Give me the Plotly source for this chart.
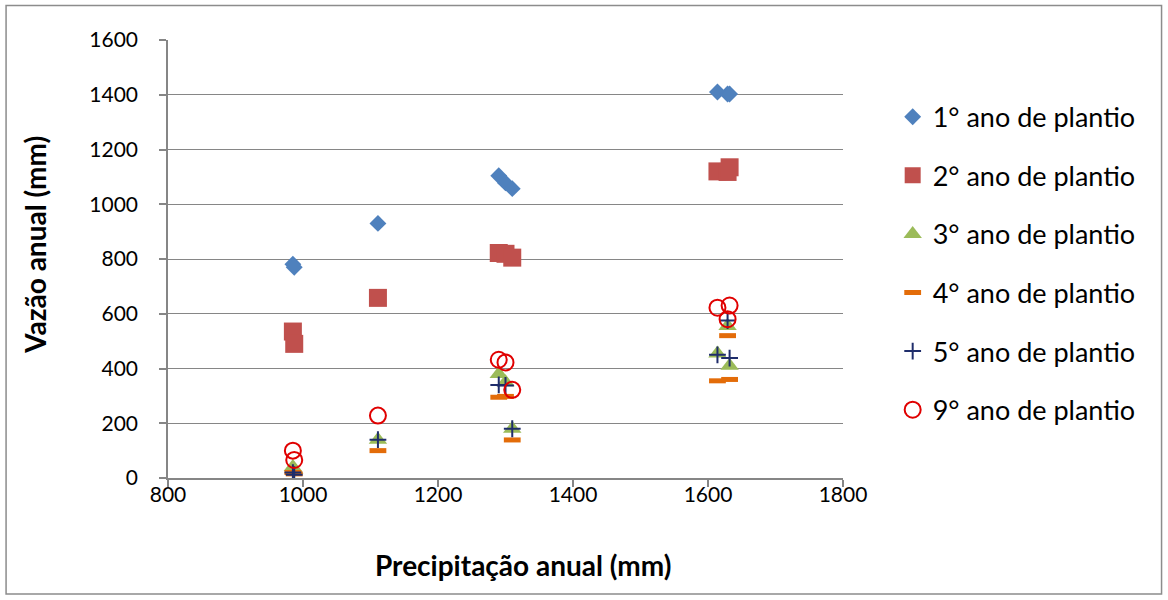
import plotly.graph_objects as go

# Data
precip = [985, 987, 1111, 1290, 1300, 1310, 1614, 1629, 1632]
ano1 = [781, 770, 930, 1104, 1078, 1057, 1410, 1403, 1403]
ano2 = [535, 490, 658, 822, 819, 805, 1120, 1118, 1135]
ano3 = [40, 30, 140, 380, 350, 180, 455, 555, 410]
ano4 = [20, 15, 100, 295, 298, 139, 355, 520, 360]
ano5 = [20, 12, 140, 340, 338, 180, 450, 575, 438]
ano9 = [100, 66, 228, 432, 422, 322, 622, 580, 630]

names = ["1° ano de plantio", "2° ano de plantio", "3° ano de plantio",
         "4° ano de plantio", "5° ano de plantio", "9° ano de plantio"]
series = [ano1, ano2, ano3, ano4, ano5, ano9]

styles = [
    dict(symbol="diamond", size=13, color="#4F81BD", line=dict(width=0)),
    dict(symbol="square", size=18, color="#C0504D", line=dict(width=0)),
    dict(symbol="triangle-up", size=16, color="#9BBB59", line=dict(width=0)),
    dict(symbol="line-ew", size=12, color="#E36C09", line=dict(width=5, color="#E36C09")),
    dict(symbol="cross-thin", size=12, color="#1F2D6B", line=dict(width=2, color="#1F2D6B")),
    dict(symbol="circle-open", size=16, color="#E00000", line=dict(width=2, color="#E00000")),
]

fig = go.Figure()
for i, (nm, ys, st) in enumerate(zip(names, series, styles)):
    fig.add_trace(go.Scatter(x=precip, y=ys, mode="markers", name=nm,
                             legendgroup=str(i), marker=st))

FONT = "Lato"
axis_col = "#868686"

# plot area in pixels
L, R, T, B = 168, 843.3, 40.4, 478.0
W, H = 1168, 600
pw, ph = R - L, B - T

def px2paper_x(px):
    return (px - L) / pw

def px2paper_y(py):
    return (B - py) / ph

fig.update_layout(
    width=W, height=H,
    margin=dict(l=L, r=W - R, t=T, b=H - B, pad=0),
    paper_bgcolor="white", plot_bgcolor="white",
    font=dict(family=FONT, size=21, color="black"),
    showlegend=True,
    legend=dict(x=px2paper_x(893), y=px2paper_y(93), xanchor="left", yanchor="top",
                font=dict(family=FONT, size=27, color="black"),
                tracegroupgap=20.5, bgcolor="rgba(0,0,0,0)", itemwidth=30),
    xaxis=dict(range=[800, 1800], dtick=200, tick0=800, showgrid=False,
               showline=True, linecolor=axis_col, linewidth=1.5,
               ticks="outside", ticklen=7, tickcolor=axis_col, tickwidth=1.5,
               zeroline=False, tickfont=dict(family=FONT, size=21),
               ticklabelstandoff=-10),
    yaxis=dict(range=[0, 1600], dtick=200, tick0=0, showgrid=True,
               gridcolor=axis_col, gridwidth=1.2,
               showline=True, linecolor=axis_col, linewidth=1.5,
               ticks="outside", ticklen=7, tickcolor=axis_col, tickwidth=1.5,
               zeroline=False, tickfont=dict(family=FONT, size=21),
               ticklabelstandoff=17),
    annotations=[
        dict(text="<b>Precipitação anual (mm)</b>", x=px2paper_x(523), y=px2paper_y(565),
             xref="paper", yref="paper", showarrow=False, xanchor="center", yanchor="middle",
             font=dict(family=FONT, size=28, color="black")),
        dict(text="<b>Vazão anual (mm)</b>", x=px2paper_x(35), y=px2paper_y(245),
             xref="paper", yref="paper", showarrow=False, textangle=-90,
             xanchor="center", yanchor="middle",
             font=dict(family=FONT, size=28, color="black")),
    ],
    shapes=[
        dict(type="rect", xref="paper", yref="paper",
             x0=px2paper_x(6), x1=px2paper_x(1162), y0=px2paper_y(594), y1=px2paper_y(6),
             line=dict(color="#8C8C8C", width=1.5), fillcolor="rgba(0,0,0,0)", layer="below"),
    ],
)

fig.write_html("out.html")
